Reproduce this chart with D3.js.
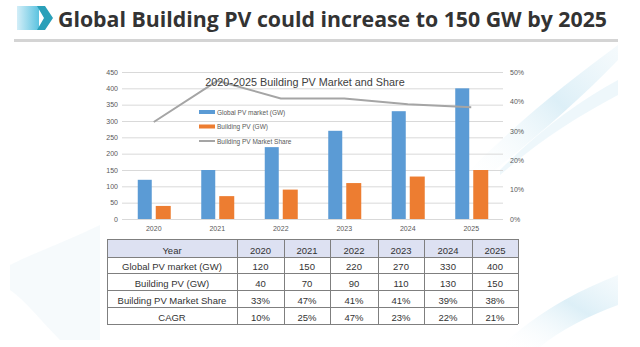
<!DOCTYPE html>
<html>
<head>
<meta charset="utf-8">
<title>Global Building PV</title>
<script src="https://cdn.jsdelivr.net/npm/d3@7"></script>
<style>
body { margin: 0; background: #fff; }
svg { display: block; font-family: "Liberation Sans", Arial, sans-serif; }
</style>
</head>
<body>
<div id="chart"></div>
<script>
// data
var years = ["2020", "2021", "2022", "2023", "2024", "2025"];
var globalPV = [120, 150, 220, 270, 330, 400];
var buildingPV = [40, 70, 90, 110, 130, 150];
var share = [0.33, 0.47, 0.41, 0.41, 0.39, 0.38];
var cagr = ["10%", "25%", "47%", "23%", "22%", "21%"];
var leftTicks = [0, 50, 100, 150, 200, 250, 300, 350, 400, 450];
var rightTicks = [0, 0.1, 0.2, 0.3, 0.4, 0.5];
var seriesNames = ["Global PV market (GW)", "Building PV (GW)", "Building PV Market Share"];

var W = 640, H = 347;
var blue = "#5b9bd5", orange = "#ed7d31", grey = "#a5a5a5";

var svg = d3.select("#chart").append("svg")
    .attr("width", W)
    .attr("height", H);

var defs = svg.append("defs");
var g1 = defs.append("linearGradient").attr("id", "iconGrad")
    .attr("x1", 0).attr("x2", 1).attr("y1", 0).attr("y2", 0);
g1.append("stop").attr("offset", "0%").attr("stop-color", "#d3eef8");
g1.append("stop").attr("offset", "100%").attr("stop-color", "#5cc3e0");

var g2 = defs.append("linearGradient").attr("id", "swoosh")
    .attr("x1", 0).attr("x2", 1).attr("y1", 1).attr("y2", 0);
g2.append("stop").attr("offset", "0%").attr("stop-color", "#ffffff").attr("stop-opacity", 0);
g2.append("stop").attr("offset", "60%").attr("stop-color", "#d4ebf5").attr("stop-opacity", 0.8);
g2.append("stop").attr("offset", "100%").attr("stop-color", "#e6f3f9").attr("stop-opacity", 0.4);

// faint background swooshes
svg.append("path")
    .attr("d", "M470,190 C520,150 570,110 618,60 L618,45 C570,80 520,120 470,170 Z")
    .attr("fill", "url(#swoosh)");
svg.append("path")
    .attr("d", "M500,175 C540,140 580,115 618,95 L618,80 C580,100 540,130 500,170 Z")
    .attr("fill", "#e2f1f8").attr("opacity", 0.6);
svg.append("path")
    .attr("d", "M500,347 C540,310 580,290 618,275 L618,305 C590,315 560,330 540,347 Z")
    .attr("fill", "url(#swoosh)");
svg.append("path")
    .attr("d", "M10,265 C40,250 70,240 100,225 L100,340 L60,340 C40,320 25,300 10,290 Z")
    .attr("fill", "#f2f8fb").attr("opacity", 0.7);

// title bar
svg.append("rect").attr("x", 17).attr("y", 6).attr("width", 22).attr("height", 24)
    .attr("fill", "url(#iconGrad)");
svg.append("path").attr("d", "M37,6 L45,6 L53,18 L45,30 L37,30 L44,18 Z")
    .attr("fill", "#2aa0b9");
svg.append("text")
    .attr("x", 58).attr("y", 27)
    .attr("textLength", 549).attr("lengthAdjust", "spacingAndGlyphs")
    .style("font-family", "'Open Sans', sans-serif")
    .style("font-weight", "bold").style("font-size", "22px")
    .style("fill", "#333")
    .text("Global Building PV could increase to 150 GW by 2025");
svg.append("rect").attr("x", 14).attr("y", 39).attr("width", 604).attr("height", 3)
    .attr("fill", "#d4d4d4");

// chart
var x = d3.scaleBand().domain(years).range([122, 503]);
var y = d3.scaleLinear().domain([0, 450]).range([219, 72]);
var y2 = d3.scaleLinear().domain([0, 0.5]).range([219, 72]);

svg.append("g").selectAll("line")
    .data(leftTicks).enter().append("line")
    .attr("x1", 122).attr("x2", 503)
    .attr("y1", function(d) { return y(d) + 0.5; })
    .attr("y2", function(d) { return y(d) + 0.5; })
    .attr("stroke", "#d9d9d9").attr("stroke-width", 1);

var axisL = svg.append("g").attr("transform", "translate(120,0)")
    .call(d3.axisLeft(y).tickValues(leftTicks).tickSize(0).tickPadding(2));
var axisR = svg.append("g").attr("transform", "translate(508,0)")
    .call(d3.axisRight(y2).tickValues(rightTicks).tickSize(0).tickPadding(2).tickFormat(d3.format(".0%")));
var axisB = svg.append("g").attr("transform", "translate(0,224)")
    .call(d3.axisBottom(x).tickSize(0).tickPadding(2));
[axisL, axisR, axisB].forEach(function(a) {
    a.select(".domain").remove();
    a.selectAll("text").style("font-size", "7px").style("fill", "#595959")
        .style("font-family", "'Liberation Sans', Arial, sans-serif");
});

var bw = 14;
svg.append("g").selectAll("rect")
    .data(globalPV).enter().append("rect")
    .attr("x", function(d, i) { return x(years[i]) + x.bandwidth() / 2 - 2 - bw; })
    .attr("y", function(d) { return y(d); })
    .attr("width", bw)
    .attr("height", function(d) { return y(0) - y(d); })
    .attr("fill", blue);

svg.append("g").selectAll("rect")
    .data(buildingPV).enter().append("rect")
    .attr("x", function(d, i) { return x(years[i]) + x.bandwidth() / 2 + 2; })
    .attr("y", function(d) { return y(d); })
    .attr("width", bw + 1)
    .attr("height", function(d) { return y(0) - y(d); })
    .attr("fill", orange);

var line = d3.line()
    .x(function(d, i) { return x(years[i]) + x.bandwidth() / 2; })
    .y(function(d) { return y2(d); });
svg.append("path").datum(share)
    .attr("d", line)
    .attr("fill", "none").attr("stroke", grey).attr("stroke-width", 2);

svg.append("text")
    .attr("x", 305).attr("y", 86)
    .attr("text-anchor", "middle")
    .style("font-size", "10.8px").style("fill", "#404040")
    .text("2020-2025 Building PV Market and Share");

// legend
var leg = svg.append("g").attr("transform", "translate(199,112)");
seriesNames.forEach(function(name, i) {
    var row = leg.append("g").attr("transform", "translate(0," + (i * 14.5) + ")");
    if (i < 2) {
        row.append("rect").attr("x", 0).attr("y", -2).attr("width", 16).attr("height", 4)
            .attr("fill", i === 0 ? blue : orange);
    } else {
        row.append("line").attr("x1", 0).attr("x2", 16).attr("y1", 0).attr("y2", 0)
            .attr("stroke", grey).attr("stroke-width", 2);
    }
    row.append("text").attr("x", 18).attr("y", 2.5)
        .style("font-size", "6.5px").style("fill", "#595959")
        .text(name);
});

// data table
var colX = [107, 237, 284, 330, 378, 424, 472, 518];
var rowY = [239, 257, 273, 290, 307, 324];
var rows = [
    ["Year"].concat(years),
    [seriesNames[0]].concat(globalPV),
    [seriesNames[1]].concat(buildingPV),
    [seriesNames[2]].concat(share.map(function(d) { return Math.round(d * 100) + "%"; })),
    ["CAGR"].concat(cagr)
];

var table = svg.append("g");
table.append("rect")
    .attr("x", colX[0]).attr("y", rowY[0])
    .attr("width", colX[7] - colX[0]).attr("height", rowY[1] - rowY[0])
    .attr("fill", "#dde1f2");

rows.forEach(function(r, ri) {
    r.forEach(function(v, ci) {
        table.append("text")
            .attr("x", (colX[ci] + colX[ci + 1]) / 2)
            .attr("y", rowY[ri + 1] - 3)
            .attr("text-anchor", "middle")
            .style("font-size", "9.5px").style("fill", "#333")
            .text(v);
    });
});
rowY.forEach(function(yy) {
    table.append("line").attr("x1", colX[0]).attr("x2", colX[7])
        .attr("y1", yy + 0.5).attr("y2", yy + 0.5)
        .attr("stroke", "#7f7f7f").attr("stroke-width", 1);
});
colX.forEach(function(xx) {
    table.append("line").attr("x1", xx + 0.5).attr("x2", xx + 0.5)
        .attr("y1", rowY[0]).attr("y2", rowY[5])
        .attr("stroke", "#7f7f7f").attr("stroke-width", 1);
});
</script>
</body>
</html>
